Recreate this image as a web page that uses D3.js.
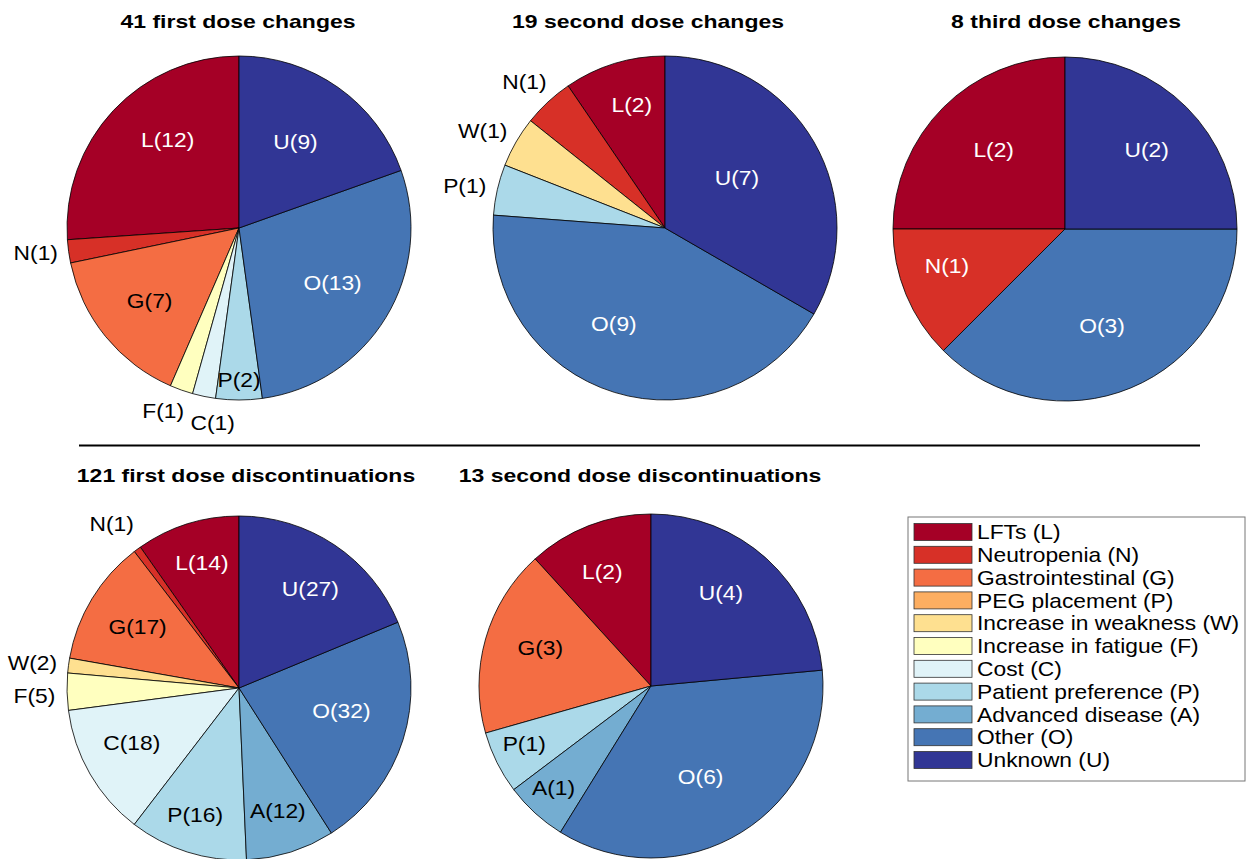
<!DOCTYPE html>
<html>
<head>
<meta charset="utf-8">
<script src="https://cdn.jsdelivr.net/npm/d3@7"></script>
<style>
  html, body { margin: 0; padding: 0; background: #fff; }
  svg { display: block; }
  text { font-family: "Liberation Sans", Arial, Helvetica, sans-serif; }
</style>
</head>
<body>
<svg id="chart" width="1253" height="859"></svg>
<script>
// Reason categories, in legend order (drawn counter-clockwise from 12 o'clock)
const keys = ["L", "N", "G", "PEG", "W", "F", "C", "P", "A", "O", "U"];
const legendLabels = [
  "LFTs (L)", "Neutropenia (N)", "Gastrointestinal (G)", "PEG placement (P)",
  "Increase in weakness (W)", "Increase in fatigue (F)", "Cost (C)",
  "Patient preference (P)", "Advanced disease (A)", "Other (O)", "Unknown (U)"
];
const shortLabels = ["L", "N", "G", "P", "W", "F", "C", "P", "A", "O", "U"];
const colors = ["#a50026", "#d73027", "#f46d43", "#fdae61", "#fee090", "#ffffbf",
                "#e0f3f8", "#abd9e9", "#74add1", "#4575b4", "#313695"];

// Counts per reason for each panel (same order as keys)
const titles = [
  "41 first dose changes", "19 second dose changes", "8 third dose changes",
  "121 first dose discontinuations", "13 second dose discontinuations"
];
const firstDoseChanges   = [12, 1, 7, 0, 0, 1, 1, 2, 0, 13, 9];
const secondDoseChanges  = [2, 1, 0, 0, 1, 0, 0, 1, 0, 9, 7];
const thirdDoseChanges   = [2, 1, 0, 0, 0, 0, 0, 0, 0, 3, 2];
const firstDoseDiscont   = [14, 1, 17, 0, 2, 5, 18, 16, 12, 32, 27];
const secondDoseDiscont  = [2, 0, 3, 0, 0, 0, 0, 1, 1, 6, 4];
const panelValues = [firstDoseChanges, secondDoseChanges, thirdDoseChanges,
                     firstDoseDiscont, secondDoseDiscont];

// Panel layout: pie centres, title anchors, label placement tweaks
const R = 172;
const panels = [
  { cx: 239, cy: 228, tx: 238, ty: 28,
    place: { L: [0.66, 8], U: [0.60, -2], O: [0.63, -1], G: [0.67, 0],
             P: [0.88, 0], C: [1.14, -4], F: [1.15, 3], N: [1.19, 1] } },
  { cx: 665, cy: 228, tx: 648, ty: 28,
    place: { L: [0.74, 2], U: [0.51, -5], O: [0.63, 11], P: [1.19, -1],
             W: [1.20, -2], N: [1.18, -1] } },
  { cx: 1065, cy: 229, tx: 1066, ty: 28,
    place: { L: [0.62, 3], U: [0.66, 1], N: [0.72, 5], O: [0.60, 1.5] } },
  { cx: 239, cy: 688, tx: 246, ty: 482,
    place: { L: [0.76, 1], U: [0.71, 2], G: [0.69, 0], N: [1.21, -1.5],
             W: [1.21, -0.6], F: [1.19, -1], C: [0.70, 3], P: [0.78, 1.6],
             A: [0.75, 0], O: [0.61, -5] } },
  { cx: 651, cy: 686, tx: 640, ty: 482,
    place: { L: [0.72, -2], U: [0.68, -5.6], G: [0.68, 3], P: [0.81, 2],
             A: [0.82, 1.4], O: [0.60, 3] } }
];
const whiteText = new Set(["L", "N", "O", "U"]);

const svg = d3.select("#chart");
const color = d3.scaleOrdinal().domain(keys).range(colors);
const pie = d3.pie().sort(null).startAngle(0).endAngle(-2 * Math.PI).value(d => d.v);
const arc = d3.arc().innerRadius(0).outerRadius(R);

const labelSize = 20;
const labelScale = 1.14;
const titleScale = 1.21;

panels.forEach((p, i) => {
  const data = keys.map((k, j) => ({ k, label: shortLabels[j], v: panelValues[i][j] }));
  const arcs = pie(data).filter(a => a.data.v > 0);
  const g = svg.append("g").attr("transform", `translate(${p.cx},${p.cy})`);

  g.selectAll("path.slice").data(arcs).join("path")
    .attr("class", "slice")
    .attr("d", arc)
    .attr("fill", d => color(d.data.k))
    .attr("stroke", "#000")
    .attr("stroke-width", 0.8)
    .attr("stroke-linejoin", "round");

  g.selectAll("text.lbl").data(arcs).join("text")
    .attr("class", "lbl")
    .attr("transform", d => {
      const t = p.place[d.data.label] || [0.65, 0];
      const mid = (d.startAngle + d.endAngle) / 2 + t[1] * Math.PI / 180;
      const r = t[0] * R;
      return `translate(${r * Math.sin(mid)},${-r * Math.cos(mid)}) scale(${labelScale},1)`;
    })
    .attr("text-anchor", "middle")
    .attr("dy", "0.36em")
    .attr("font-size", labelSize)
    .attr("fill", d => {
      const t = p.place[d.data.label] || [0.65, 0];
      return (t[0] < 1 && whiteText.has(d.data.label)) ? "#fff" : "#000";
    })
    .text(d => `${d.data.label}(${d.data.v})`);

  svg.append("text")
    .attr("transform", `translate(${p.tx},${p.ty}) scale(${titleScale},1)`)
    .attr("text-anchor", "middle")
    .attr("font-size", 19)
    .attr("font-weight", "bold")
    .attr("fill", "#000")
    .text(titles[i]);
});

// Separator between the change panels and the discontinuation panels
svg.append("line")
  .attr("x1", 79).attr("x2", 1200)
  .attr("y1", 445.5).attr("y2", 445.5)
  .attr("stroke", "#000").attr("stroke-width", 2);

// Legend
const lg = svg.append("g").attr("transform", "translate(908,517)");
lg.append("rect")
  .attr("x", 0).attr("y", 0).attr("width", 337).attr("height", 264)
  .attr("fill", "#fff").attr("stroke", "#777").attr("stroke-width", 1);
const rowY = d3.scaleLinear().domain([0, keys.length - 1]).range([15, 243]);
const rows = lg.selectAll("g.row").data(keys).join("g")
  .attr("class", "row")
  .attr("transform", (d, j) => `translate(0,${rowY(j)})`);
rows.append("rect")
  .attr("x", 6).attr("y", -8.5).attr("width", 58).attr("height", 17)
  .attr("fill", d => color(d))
  .attr("stroke", "#333").attr("stroke-width", 0.8);
rows.append("text")
  .attr("transform", `translate(69,0) scale(${labelScale},1)`)
  .attr("dy", "0.36em")
  .attr("font-size", labelSize)
  .attr("fill", "#000")
  .text((d, j) => legendLabels[j]);
</script>
</body>
</html>
